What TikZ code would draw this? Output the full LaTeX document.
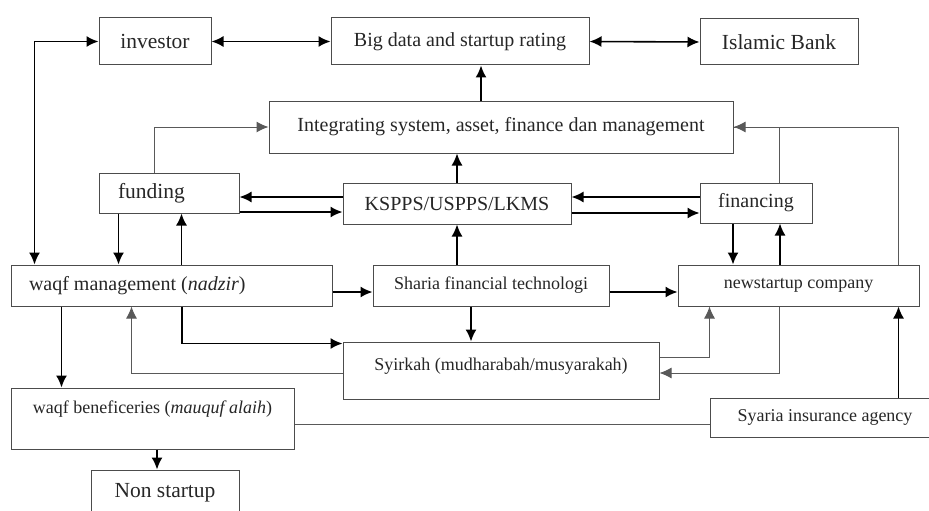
\documentclass[tikz,border=0pt]{standalone}
\usepackage{fontspec}
\setmainfont{Liberation Serif}
\usepackage{tikz}
\usetikzlibrary{arrows.meta, positioning, calc}

\begin{document}
\begin{tikzpicture}[
  x=1pt, y=-1pt,
  box/.style={draw=gray!60!black, line width=1pt, inner sep=0pt, text=black!85},
  big/.style={box, font=\fontsize{21.5}{24}\selectfont},
  mid/.style={box, font=\fontsize{20}{23}\selectfont},
  small/.style={box, font=\fontsize{18}{21}\selectfont},
  arr/.style={line width=1.6pt, -{Latex[length=12pt,width=11pt]}},
  dblarr/.style={line width=1.6pt, {Latex[length=12pt,width=11pt]}-{Latex[length=12pt,width=11pt]}},
  thinarr/.style={line width=1pt, draw=gray!70!black, -{Latex[length=12pt,width=11pt]}},
  thin/.style={line width=1pt, draw=gray!70!black},
]
\useasboundingbox (0,0) rectangle (929,511);

%% Row 1
\node[big, minimum width=112pt, minimum height=47pt] (invest) at (155,41.5) {investor};
\node[mid, minimum width=258pt, minimum height=47pt] (bigdata) at (460,41.5) {Big data and startup rating};
\node[big, minimum width=158pt, minimum height=46pt] (bank) at (779,42) {Islamic Bank};

%% Row 2
\node[mid, minimum width=464pt, minimum height=52pt] (integ) at (501,127) {Integrating system, asset, finance dan management};

%% Row 3
\node[big, minimum width=140pt, minimum height=40pt] (funding) at (169,193) {\makebox[102pt][l]{funding}};
\node[mid, minimum width=228pt, minimum height=41pt] (kspps) at (457,203.5) {KSPPS/USPPS/LKMS};
\node[mid, minimum width=112pt, minimum height=40pt] (financing) at (756,203) {financing};

%% Row 4
\node[mid, minimum width=321pt, minimum height=41pt] (waqf) at (171.5,285.5) {\makebox[285pt][l]{waqf management (\textit{nadzir})}};
\node[small, minimum width=236pt, minimum height=41pt] (sharia) at (491,285.5) {Sharia financial technologi};
\node[small, minimum width=241pt, minimum height=41pt] (newstart) at (798.5,285.5) {newstartup company};

%% Row 5
\node[small, minimum width=316pt, minimum height=57pt, text height=13pt, text depth=14pt] (syirkah) at (501,370.5) {Syirkah (mudharabah/musyarakah)};
\node[small, minimum width=283pt, minimum height=61pt, text height=13pt, text depth=24pt] (benef) at (152.5,418.5) {waqf beneficeries (\textit{mauquf alaih})};
\node[small, minimum width=230pt, minimum height=39pt] (insur) at (825,417.5) {Syaria insurance agency};

%% Row 6
\node[big, minimum width=148pt, minimum height=46pt] (nonstart) at (165,493) {Non startup};

%% Top links
\draw[dblarr] (invest.east) -- (bigdata.west);
\draw[dblarr] (bigdata.east) -- (bank.west);
\draw[dblarr] (invest.west) -| ([xshift=24pt]waqf.north west);
\draw[arr] ([xshift=21pt]bigdata.south |- integ.north) -- ([xshift=21pt]bigdata.south);
\draw[thinarr] ([xshift=56pt]funding.north west) |- (integ.west);
\draw[thinarr] ([xshift=221pt]newstart.north west) |- (integ.east);
\draw[thin] ([xshift=23pt]financing.north) |- (integ.east);

%% KSPPS links
\draw[arr] (kspps.north) -- (kspps.north |- integ.south);
\draw[arr] (kspps.south |- sharia.north) -- (kspps.south);
\draw[arr] ([yshift=6.5pt]kspps.west) -- ([yshift=6.5pt]kspps.west -| funding.east);
\draw[arr] ([yshift=-8.5pt]kspps.west -| funding.east) -- ([yshift=-8.5pt]kspps.west);
\draw[arr] ([yshift=6pt]financing.west) -- ([yshift=6pt]financing.west -| kspps.east);
\draw[arr] ([yshift=-10pt]financing.west -| kspps.east) -- ([yshift=-10pt]financing.west);

%% Vertical pairs
\draw[arr] ([xshift=20pt]funding.south west) -- ([xshift=20pt]funding.south west |- waqf.north);
\draw[arr] ([xshift=83pt]funding.south west |- waqf.north) -- ([xshift=83pt]funding.south west);
\draw[arr] ([xshift=-23pt]financing.south) -- ([xshift=-23pt]financing.south |- newstart.north);
\draw[arr] ([xshift=24pt]financing.south |- newstart.north) -- ([xshift=24pt]financing.south);

%% Row 4 links
\draw[arr] ([yshift=-6.5pt]waqf.east) -- ([yshift=-6.5pt]waqf.east -| sharia.west);
\draw[arr] ([yshift=-6.5pt]sharia.east) -- ([yshift=-6.5pt]sharia.east -| newstart.west);
\draw[arr] ([xshift=-20pt]sharia.south) -- ([xshift=-20pt]sharia.south |- syirkah.north);

%% Syirkah links
\draw[arr] ([xshift=10.5pt]waqf.south) |- ([yshift=-2pt]syirkah.north west);
\draw[thinarr] ([yshift=-2.5pt]syirkah.west) -| ([xshift=121pt]waqf.south west);
\draw[thinarr] ([yshift=13.5pt]syirkah.east) -| ([xshift=32pt]newstart.south west);
\draw[thinarr] ([xshift=102pt]newstart.south west) |- ([yshift=-2.5pt]syirkah.east);

%% Bottom links
\draw[arr] ([xshift=51pt]waqf.south west) -- ([xshift=51pt]waqf.south west |- benef.north);
\draw[arr] ([xshift=-8pt]nonstart.north |- benef.south) -- ([xshift=-8pt]nonstart.north);
\draw[thin] ([yshift=-5.5pt]benef.east) -- ([yshift=-5.5pt]benef.east -| insur.west);
\draw[arr] ([xshift=221pt]newstart.south west |- insur.north) -- ([xshift=221pt]newstart.south west);

\end{tikzpicture}
\end{document}
